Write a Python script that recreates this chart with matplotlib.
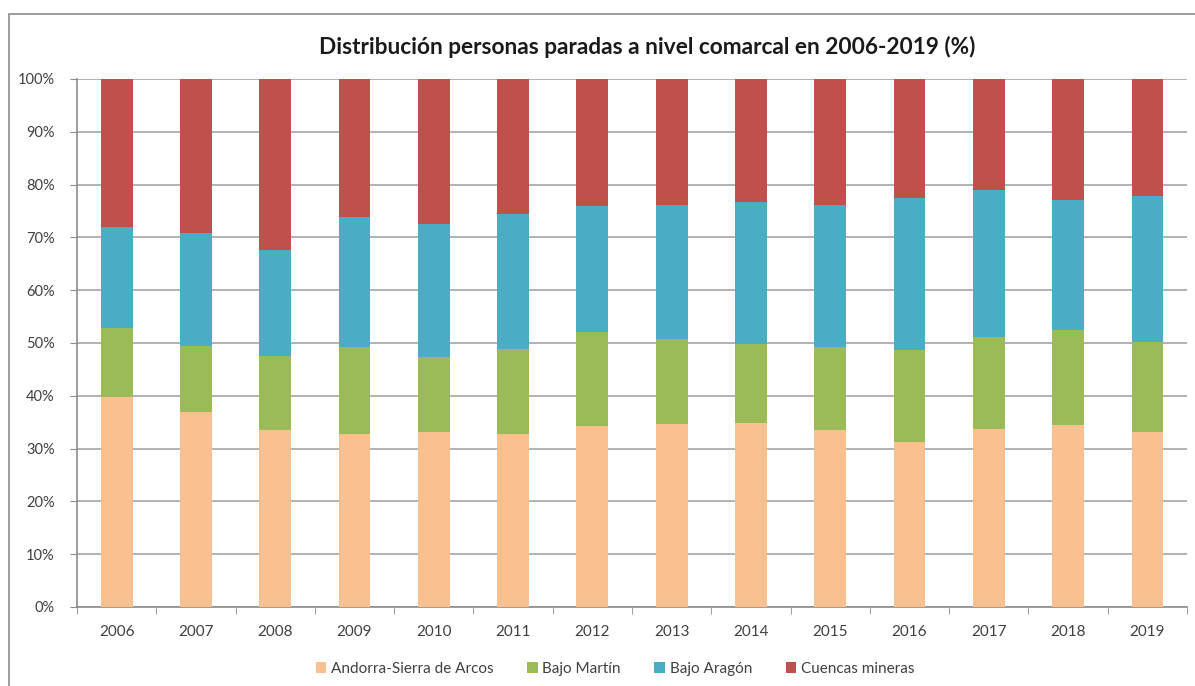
import numpy as np
import matplotlib
matplotlib.use('Agg')
import matplotlib.pyplot as plt
from matplotlib.patches import Rectangle, Patch
from matplotlib.ticker import FuncFormatter, FixedLocator

years = ['2006', '2007', '2008', '2009', '2010', '2011', '2012',
         '2013', '2014', '2015', '2016', '2017', '2018', '2019']

# shares (%)
andorra = [39.8, 36.9, 33.5, 32.8, 33.1, 32.8, 34.2, 34.6, 34.8, 33.5, 31.3, 33.7, 34.5, 33.2]
bajo_martin = [13.1, 12.5, 14.1, 16.4, 14.2, 16.1, 17.8, 16.2, 15.0, 15.8, 17.3, 17.5, 17.9, 16.9]
bajo_aragon = [19.0, 21.5, 20.0, 24.7, 25.2, 25.6, 23.9, 25.4, 26.9, 26.8, 28.9, 27.7, 24.7, 27.7]
cuencas = [28.1, 29.1, 32.4, 26.1, 27.5, 25.5, 24.1, 23.8, 23.3, 23.9, 22.5, 21.1, 22.9, 22.2]

series = [('Andorra-Sierra de Arcos', andorra, '#FAC090'),
          ('Bajo Martín', bajo_martin, '#9BBB59'),
          ('Bajo Aragón', bajo_aragon, '#4BACC6'),
          ('Cuencas mineras', cuencas, '#C0504D')]

plt.rcParams['font.family'] = ['Lato', 'DejaVu Sans']
TXT = '#404040'

fig = plt.figure(figsize=(11.95, 6.86), dpi=100)
fig.patch.set_facecolor('white')

# outer chart frame (only top and left edge visible in the crop)
fig.patches.append(Rectangle((9 / 1195, -0.1), 1.2, 1 - 14 / 686 + 0.1,
                             transform=fig.transFigure, fill=False,
                             edgecolor='#8c8c8c', linewidth=1.2))

ax = fig.add_axes([77 / 1195, 79 / 686, 1110 / 1195, 528 / 686])

x = np.arange(len(years))
tot = np.array(andorra) + np.array(bajo_martin) + np.array(bajo_aragon) + np.array(cuencas)
bottom = np.zeros(len(years))
for name, vals, col in series:
    v = np.array(vals) / tot * 100
    ax.bar(x, v, width=0.4, bottom=bottom, color=col, label=name, zorder=3)
    bottom += v

ax.set_xlim(-0.5, len(years) - 0.5)
ax.set_ylim(0, 100)
ax.set_yticks(np.arange(0, 101, 10))
ax.yaxis.set_major_formatter(FuncFormatter(lambda v, p: f'{int(v)}%'))
ax.grid(axis='y', color='#a6a6a6', linewidth=1.2, zorder=0)

ax.set_xticks(x)
ax.set_xticklabels(years)
ax.xaxis.set_minor_locator(FixedLocator(np.arange(-0.5, len(years), 1)))
ax.tick_params(axis='x', which='major', length=0, pad=13, labelsize=11, labelcolor=TXT)
ax.tick_params(axis='x', which='minor', length=5, color='#8c8c8c', direction='out')
ax.tick_params(axis='y', length=5, color='#8c8c8c', labelsize=10.5, labelcolor=TXT, pad=11)

for s in ['top', 'right']:
    ax.spines[s].set_visible(False)
for s in ['left', 'bottom']:
    ax.spines[s].set_color('#8c8c8c')
    ax.spines[s].set_linewidth(1.2)

fig.text(647 / 1195, 1 - 47 / 686, 'Distribución personas paradas a nivel comarcal en 2006-2019 (%)',
         ha='center', va='center', fontsize=16.3, fontweight='bold', color='#1a1a1a')

handles = [Patch(facecolor=c, label=n) for n, _, c in series]
fig.legend(handles=handles, loc='center', bbox_to_anchor=(615 / 1195, 1 - 669 / 686),
           ncol=4, frameon=False, fontsize=11, labelcolor=TXT,
           handlelength=0.7, handleheight=0.7, handletextpad=0.3, columnspacing=2.2)

fig.savefig('out.png', dpi=100, facecolor='white')
